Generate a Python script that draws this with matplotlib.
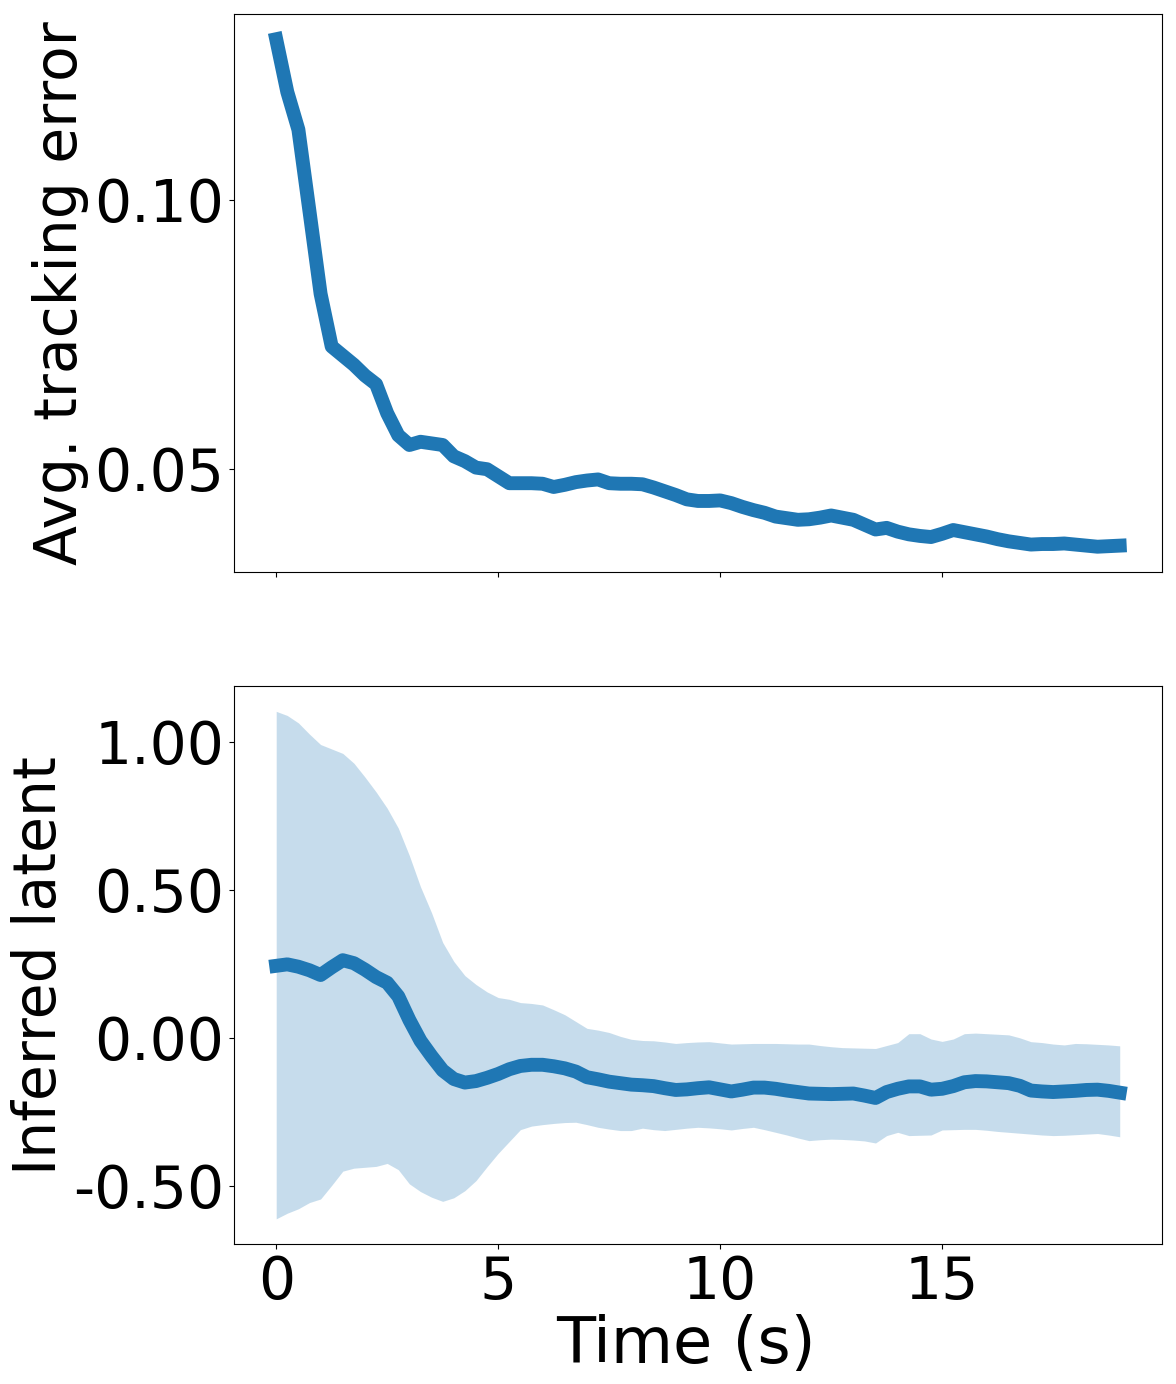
import numpy as np
import matplotlib
matplotlib.use('Agg')
import matplotlib.pyplot as plt
from matplotlib.ticker import FormatStrFormatter

# time grid, one sample every 0.25 s
time = np.arange(77) * 0.25

tracking_error = [
    0.1298, 0.1200, 0.1130, 0.0978, 0.0825, 0.0727, 0.0710, 0.0693, 0.0673, 0.0657,
    0.0603, 0.0562, 0.0544, 0.0550, 0.0547, 0.0544, 0.0523, 0.0514, 0.0502, 0.0499,
    0.0486, 0.0473, 0.0473, 0.0473, 0.0472, 0.0466, 0.0470, 0.0475, 0.0478, 0.0480,
    0.0473, 0.0472, 0.0472, 0.0471, 0.0465, 0.0458, 0.0451, 0.0443, 0.0440, 0.0440,
    0.0441, 0.0436, 0.0429, 0.0423, 0.0418, 0.0411, 0.0408, 0.0405, 0.0406, 0.0409,
    0.0413, 0.0409, 0.0405, 0.0396, 0.0387, 0.0390, 0.0383, 0.0378, 0.0375, 0.0373,
    0.0379, 0.0386, 0.0382, 0.0378, 0.0374, 0.0369, 0.0365, 0.0362, 0.0359, 0.0360,
    0.0360, 0.0361, 0.0359, 0.0357, 0.0355, 0.0356, 0.0357,
]

latent_mean = [
    0.243, 0.248, 0.240, 0.228, 0.212, 0.238, 0.262, 0.252, 0.230, 0.205,
    0.186, 0.140, 0.060, -0.010, -0.062, -0.110, -0.139, -0.151, -0.146, -0.135,
    -0.122, -0.106, -0.095, -0.091, -0.091, -0.096, -0.103, -0.114, -0.133, -0.140,
    -0.148, -0.153, -0.158, -0.160, -0.163, -0.170, -0.176, -0.174, -0.170, -0.167,
    -0.174, -0.181, -0.175, -0.168, -0.168, -0.172, -0.178, -0.183, -0.188, -0.189,
    -0.190, -0.189, -0.188, -0.195, -0.203, -0.183, -0.172, -0.164, -0.164, -0.175,
    -0.172, -0.163, -0.150, -0.146, -0.147, -0.150, -0.153, -0.162, -0.178, -0.181,
    -0.183, -0.181, -0.179, -0.176, -0.175, -0.179, -0.185,
]

latent_upper = [
    1.102, 1.088, 1.063, 1.025, 0.990, 0.975, 0.960, 0.927, 0.880, 0.830,
    0.775, 0.708, 0.615, 0.510, 0.422, 0.322, 0.258, 0.210, 0.180, 0.155,
    0.136, 0.130, 0.119, 0.116, 0.111, 0.095, 0.078, 0.055, 0.032, 0.026,
    0.018, 0.005, -0.005, -0.009, -0.010, -0.014, -0.019, -0.016, -0.014, -0.013,
    -0.017, -0.021, -0.020, -0.019, -0.019, -0.019, -0.020, -0.021, -0.021, -0.026,
    -0.030, -0.033, -0.034, -0.035, -0.036, -0.026, -0.016, 0.014, 0.014, -0.004,
    -0.012, -0.004, 0.014, 0.016, 0.014, 0.012, 0.010, 0.000, -0.013, -0.016,
    -0.021, -0.024, -0.019, -0.020, -0.022, -0.024, -0.027,
]

latent_lower = [
    -0.611, -0.592, -0.577, -0.556, -0.544, -0.498, -0.450, -0.440, -0.437, -0.434,
    -0.424, -0.445, -0.493, -0.519, -0.538, -0.552, -0.540, -0.516, -0.482, -0.435,
    -0.390, -0.350, -0.310, -0.298, -0.293, -0.289, -0.286, -0.285, -0.293, -0.302,
    -0.308, -0.313, -0.313, -0.305, -0.310, -0.313, -0.309, -0.305, -0.302, -0.304,
    -0.307, -0.311, -0.306, -0.302, -0.310, -0.319, -0.328, -0.338, -0.347, -0.344,
    -0.342, -0.343, -0.345, -0.348, -0.355, -0.330, -0.319, -0.330, -0.329, -0.328,
    -0.311, -0.310, -0.309, -0.309, -0.312, -0.316, -0.319, -0.322, -0.325, -0.328,
    -0.330, -0.329, -0.327, -0.325, -0.323, -0.328, -0.334,
]

plt.rcParams['font.size'] = 42

fig, (ax1, ax2) = plt.subplots(2, 1, sharex=True, figsize=(11.76, 13.84), dpi=100)
fig.subplots_adjust(left=0.199, right=0.988, top=0.990, bottom=0.101, hspace=0.204)

ax1.plot(time, tracking_error, color='C0', lw=10)
ax1.set_ylabel('Avg. tracking error')
ax1.set_yticks([0.05, 0.10])
ax1.yaxis.set_major_formatter(FormatStrFormatter('%.2f'))

ax2.fill_between(time, latent_lower, latent_upper, color='C0', alpha=0.25, lw=0)
ax2.plot(time, latent_mean, color='C0', lw=10)
ax2.set_ylabel('Inferred latent')
ax2.set_xlabel('Time (s)', fontsize=46, x=0.487, labelpad=2)
ax2.set_yticks([-0.5, 0.0, 0.5, 1.0])
ax2.yaxis.set_major_formatter(FormatStrFormatter('%.2f'))
ax2.set_xticks([0, 5, 10, 15])

plt.savefig('out.png')
